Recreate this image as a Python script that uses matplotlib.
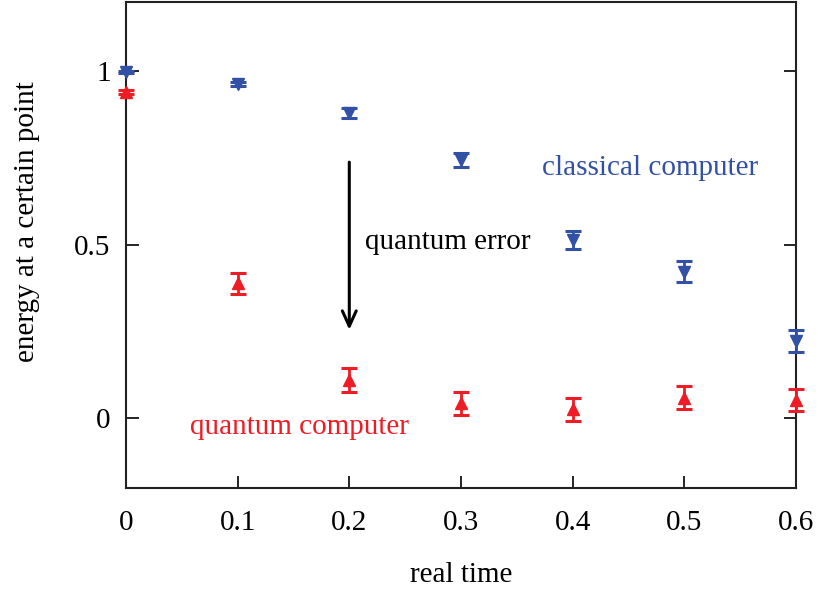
import matplotlib
matplotlib.use("Agg")
import matplotlib.pyplot as plt

plt.rcParams['font.family'] = ['Liberation Serif', 'DejaVu Serif']
plt.rcParams['mathtext.fontset'] = 'stix'

time = [0.0, 0.1, 0.2, 0.3, 0.4, 0.5, 0.6]
classical = [0.998, 0.962, 0.879, 0.743, 0.514, 0.422, 0.223]
classical_err = [0.004, 0.006, 0.015, 0.02, 0.027, 0.03, 0.032]
quantum = [0.940, 0.389, 0.110, 0.043, 0.026, 0.060, 0.053]
quantum_err = [0.006, 0.03, 0.035, 0.034, 0.034, 0.034, 0.033]

xticks = [0, 0.1, 0.2, 0.3, 0.4, 0.5, 0.6]
xticklabels = ["0", "0.1", "0.2", "0.3", "0.4", "0.5", "0.6"]
yticks = [0, 0.5, 1]
yticklabels = ["0", "0.5", "1"]

blue = "#3251a5"
red = "#ee1c25"

fig = plt.figure(figsize=(8.18, 5.92), dpi=100)
ax = fig.add_axes([0.154, 0.176, 0.819, 0.821])

ax.errorbar(time, classical, yerr=classical_err, fmt='v', color=blue, ms=9,
            capsize=5.5, elinewidth=2.0, capthick=2.2, clip_on=False, zorder=3)
ax.errorbar(time, quantum, yerr=quantum_err, fmt='^', color=red, ms=9,
            capsize=5.5, elinewidth=2.0, capthick=2.2, clip_on=False, zorder=3)

ax.annotate("", xy=(0.2, 0.255), xytext=(0.2, 0.738),
            arrowprops=dict(arrowstyle="->,head_length=1.1,head_width=0.5",
                            color="black", lw=2.2, shrinkA=0, shrinkB=0))

ax.text(0.373, 0.7225, "classical computer", color=blue, fontsize=21,
        va="center", ha="left")
ax.text(0.214, 0.509, "quantum error", color="black", fontsize=21,
        va="center", ha="left")
ax.text(0.057, -0.026, "quantum computer", color=red, fontsize=21,
        va="center", ha="left")

ax.set_xlim(0, 0.6)
ax.set_ylim(-0.2, 1.2)
ax.set_xticks(xticks)
ax.set_xticklabels(xticklabels)
ax.set_yticks(yticks)
ax.set_yticklabels(yticklabels)
ax.tick_params(direction='in', length=9, width=1.2, labelsize=21,
               top=False, right=True)
ax.tick_params(axis='y', pad=11)
ax.tick_params(axis='x', pad=16)
for s in ax.spines.values():
    s.set_linewidth(1.5)
    s.set_color("#222222")

ax.set_xlabel("real time", fontsize=21, labelpad=19)
ax.set_ylabel("energy at a certain point", fontsize=21)
ax.yaxis.set_label_coords(-0.128, 0.547)

fig.savefig("out.png", dpi=100)
